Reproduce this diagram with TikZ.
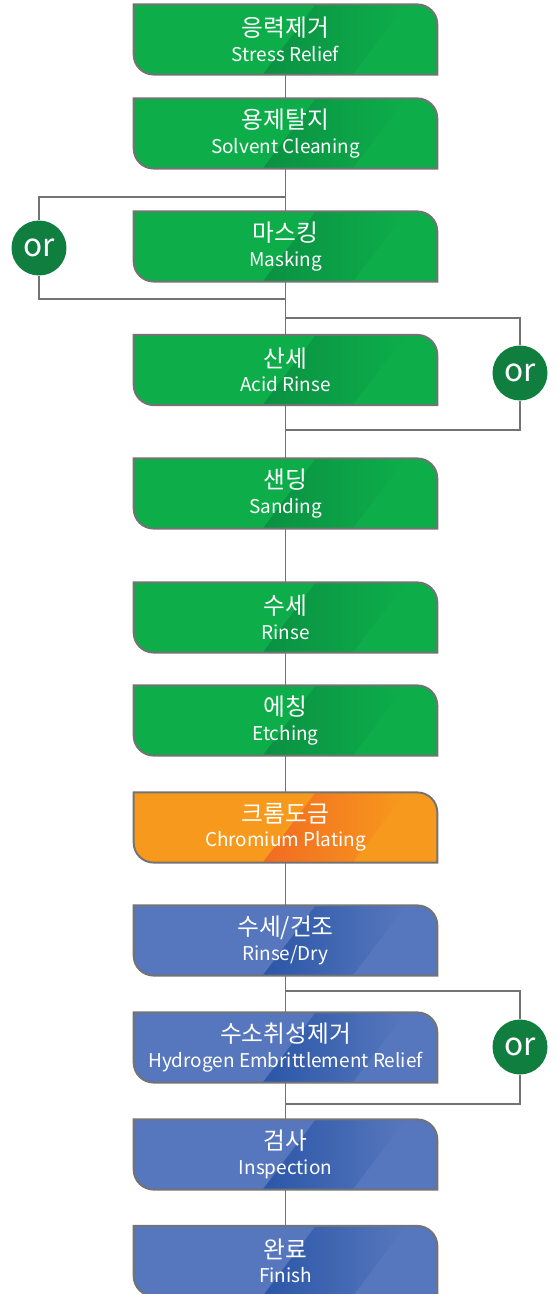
\documentclass[tikz,border=0pt]{standalone}
\usepackage{fontspec}
\setmainfont{Noto Sans CJK KR}
\usetikzlibrary{calc}
\usetikzlibrary{positioning}
\pgfdeclarelayer{ultrabackground}
\pgfdeclarelayer{background}
\pgfsetlayers{ultrabackground,background,main}

\definecolor{stepgreen}{HTML}{0DAD4A}
\definecolor{stepgreendark}{HTML}{0A9142}
\definecolor{steporange}{HTML}{F7991C}
\definecolor{steporangedark}{HTML}{F26B22}
\definecolor{stepblue}{HTML}{5677BD}
\definecolor{stepbluedark}{HTML}{2B56A7}
\definecolor{orgreen}{HTML}{0F7E3F}
\definecolor{linegray}{HTML}{737373}

\newcommand{\eng}{\fontsize{10.8}{14}\selectfont}
\newcommand{\stepoutline}[1]{(#1.north west) -- ([xshift=-0.4cm]#1.north east) arc[start angle=90, end angle=0, radius=0.4cm] -- (#1.south east) -- ([xshift=0.4cm]#1.south west) arc[start angle=270, end angle=180, radius=0.4cm] -- cycle}

\begin{document}
\begin{tikzpicture}
			[
				x = 0.02cm, y = 0.02cm,
				stepbox/.style = {rectangle, minimum width = 6.06cm, minimum height = 1.39cm, inner sep = 0pt, align = center, text = white, font = \fontsize{13.5}{14}\selectfont},
				orbubble/.style = {circle, minimum size = 1.1cm, inner sep = 0pt, fill = orgreen, text = white, font = \fontsize{18}{18}\selectfont},
				connector/.style = {draw = linegray, line width = 1.1pt},
				stepborder/.style = {draw = linegray, line width = 1.1pt},
			]
			\useasboundingbox (0,0) rectangle (555,-1294);

			% process steps
			\node (s1) [stepbox] at (285.5,-39.5) {응력제거\\\eng Stress Relief};
			\node (s2) [stepbox] at (285.5,-133.5) {용제탈지\\\eng Solvent Cleaning};
			\node (s3) [stepbox] at (285.5,-246.5) {마스킹\\\eng Masking};
			\node (s4) [stepbox] at (285.5,-370) {산세\\\eng Acid Rinse};
			\node (s5) [stepbox] at (285.5,-493.5) {샌딩\\\eng Sanding};
			\node (s6) [stepbox] at (285.5,-617.5) {수세\\\eng Rinse};
			\node (s7) [stepbox] at (285.5,-720.5) {에칭\\\eng Etching};
			\node (s8) [stepbox] at (285.5,-827.5) {크롬도금\\\eng Chromium Plating};
			\node (s9) [stepbox] at (285.5,-940.5) {수세/건조\\\eng Rinse/Dry};
			\node (s10) [stepbox] at (285.5,-1047.5) {수소취성제거\\\eng Hydrogen Embrittlement Relief};
			\node (s11) [stepbox] at (285.5,-1154.5) {검사\\\eng Inspection};
			\node (s12) [stepbox] at (285.5,-1261) {완료\\\eng Finish};

			% box bodies with the sheen
			\begin{pgfonlayer}{background}
				\foreach \s/\col/\shd in {s1/stepgreen/stepgreendark, s2/stepgreen/stepgreendark, s3/stepgreen/stepgreendark, s4/stepgreen/stepgreendark, s5/stepgreen/stepgreendark, s6/stepgreen/stepgreendark, s7/stepgreen/stepgreendark, s8/steporange/steporangedark, s9/stepblue/stepbluedark, s10/stepblue/stepbluedark, s11/stepblue/stepbluedark, s12/stepblue/stepbluedark}
				{
					\fill [\col] \stepoutline{\s};
					\begin{scope}
						\clip \stepoutline{\s};
						\shade [left color = \shd, right color = \col] ($(\s.south west)+(129,0)$) -- ($(\s.north west)+(182,0)$) -- ($(\s.north west)+(272,0)$) -- ($(\s.south west)+(219,0)$) -- cycle;
					\end{scope}
					\draw [stepborder] \stepoutline{\s};
				}
			\end{pgfonlayer}

			% main line
			\begin{pgfonlayer}{ultrabackground}
				\foreach \a/\b in {s1/s2, s2/s3, s3/s4, s4/s5, s5/s6, s6/s7, s7/s8, s8/s9, s9/s10, s10/s11, s11/s12}
					\draw [connector] (\a.south) -- (\b.north);
			\end{pgfonlayer}

			% alternatives
			\node (or1) [orbubble] at (39,-248) {or};
			\node (or2) [orbubble] at (520,-373) {or};
			\node (or3) [orbubble] at (520,-1047) {or};
			\coordinate (j1) at (286,-197);
			\coordinate (j2) at (286,-299);
			\coordinate (j3) at (286,-318);
			\coordinate (j4) at (286,-430);
			\coordinate (j5) at (286,-991);
			\coordinate (j6) at (286,-1104);
			\begin{pgfonlayer}{ultrabackground}
				\draw [connector] (j1) -| (or1.north);
				\draw [connector] (or1.south) |- (j2);
				\draw [connector] (j3) -| (or2.north);
				\draw [connector] (or2.south) |- (j4);
				\draw [connector] (j5) -| (or3.north);
				\draw [connector] (or3.south) |- (j6);
			\end{pgfonlayer}
		\end{tikzpicture}
\end{document}
